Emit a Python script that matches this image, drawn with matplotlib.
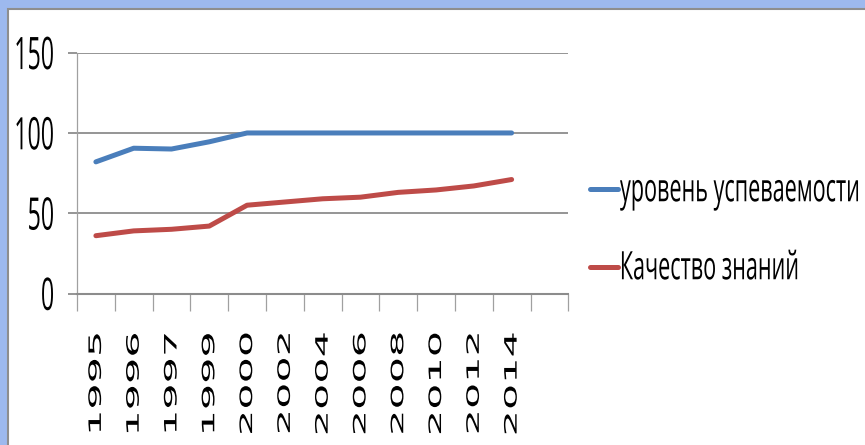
import numpy as np
import matplotlib
matplotlib.use('Agg')
import matplotlib.pyplot as plt
from matplotlib.patches import Rectangle
from matplotlib.patheffects import AbstractPathEffect
from matplotlib.transforms import Affine2D

# ---------------- data ----------------
categories = ['1995', '1996', '1997', '1999', '2000', '2002', '2004',
              '2006', '2008', '2010', '2012', '2014', '']
uspevaemost = [82, 90.5, 90, 94.5, 100, 100, 100, 100, 100, 100, 100, 100]
kachestvo = [36, 39, 40, 42, 55, 57, 59, 60, 63, 64.5, 67, 71]
series_names = ['уровень успеваемости', 'Качество знаний']
y_ticks = [0, 50, 100, 150]

BLUE = '#4A7EBB'
RED = '#BE4B48'
GRID = '#8C8C8C'


class Stretch(AbstractPathEffect):
    """Scale glyph outlines of a text (text stays real text)."""
    def __init__(self, sx=1.0, sy=1.0, fx=0.5, ey=0.35):
        super().__init__()
        self.sx, self.sy, self.fx, self.ey = sx, sy, fx, ey

    def draw_path(self, renderer, gc, tpath, affine, rgbFace=None):
        ext = tpath.get_extents()
        axp = ext.x0 + self.fx * ext.width
        ayp = self.ey * 100.0
        t = (Affine2D().translate(-axp, -ayp).scale(self.sx, self.sy)
             .translate(axp, ayp) + affine)
        renderer.draw_path(gc, tpath, t, rgbFace)


W, H = 865, 445
fig = plt.figure(figsize=(W / 100, H / 100), dpi=100, facecolor='#9DB9EE')
fig.patches.append(Rectangle((8 / W, -0.02), 1.0, (H - 8.5) / H + 0.02,
                             transform=fig.transFigure, facecolor='white',
                             edgecolor='#8E8E8E', lw=1.5, zorder=-5))

y0, y150 = 293.5, 52.7
x_left, x_right = 77, 568.3
ax = fig.add_axes([x_left / W, (H - y0) / H, (x_right - x_left) / W, (y0 - y150) / H])
ax.set_facecolor('none')
ax.set_zorder(1)

x = np.arange(len(uspevaemost))
l1, = ax.plot(x, uspevaemost, color=BLUE, lw=3.6, solid_capstyle='round',
              solid_joinstyle='round', zorder=3)
l2, = ax.plot(x, kachestvo, color=RED, lw=3.6, solid_capstyle='round',
              solid_joinstyle='round', zorder=3)

ax.set_xlim(-0.5, len(categories) - 0.5)
ax.set_ylim(0, 150)

for s in ['top', 'right']:
    ax.spines[s].set_visible(False)
ax.spines['left'].set_color('#A0A0A0')
ax.spines['left'].set_linewidth(0.9)
ax.spines['bottom'].set_color(GRID)
ax.spines['bottom'].set_linewidth(1.5)

ax.yaxis.grid(True, color=GRID, lw=1.3)
ax.set_axisbelow(True)

# y axis
ax.set_yticks(y_ticks)
ylabs = ax.set_yticklabels([str(v) for v in y_ticks], fontfamily='Open Sans',
                           fontsize=14.4)
for t in ylabs:
    t.set_path_effects([Stretch(1.16, 2.24, fx=1.0, ey=0.357)])
ax.tick_params(axis='y', direction='out', length=6.5, width=1.3, color=GRID, pad=10)

# x axis: boundaries as major ticks, labels on minor ticks at centers
ax.set_xticks(np.arange(-0.5, len(categories), 1.0))
ax.tick_params(axis='x', which='major', direction='out', length=12, width=0.9,
               color='#A0A0A0', labelbottom=False)
ax.set_xticks(np.arange(len(categories)), minor=True)
xlabs = ax.set_xticklabels(categories, minor=True, fontfamily='DejaVu Sans',
                           fontsize=12.3, rotation=90)
for t in xlabs:
    t.set_path_effects([Stretch(2.42, 1.0, fx=1.0, ey=0.35)])
ax.tick_params(axis='x', which='minor', length=0, pad=28)

# legend
leg = fig.legend([l1, l2], series_names, loc='upper left',
                 bbox_to_anchor=(590 / W, (H - 180.5) / H), frameon=False,
                 handlelength=1.4, handletextpad=0.1, borderaxespad=0,
                 borderpad=0, labelspacing=2.9,
                 prop={'family': 'Open Sans', 'size': 14.4})
for t in leg.get_texts():
    t.set_path_effects([Stretch(1.08, 1.96, fx=0.0, ey=0.3)])

fig.savefig('out.png', dpi=100, facecolor=fig.get_facecolor())
